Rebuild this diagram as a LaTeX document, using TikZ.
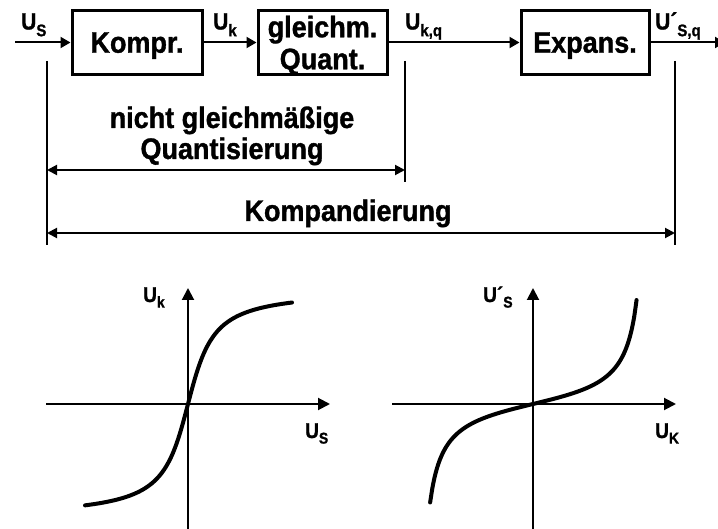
\documentclass[tikz,border=0pt]{standalone}
\usepackage{graphicx}
\usepackage{fontspec}
\setmainfont{Liberation Sans Bold}[FakeBold=1.2]
\usetikzlibrary{arrows.meta}
\newcommand{\BT}[1]{\scalebox{1}[1.1]{\fontsize{27}{27}\selectfont #1}}
\newcommand{\UTop}[2]{\scalebox{1}[1.12]{\fontsize{21}{21}\selectfont U#1\raisebox{-6pt}{\fontsize{15}{15}\selectfont #2}}}
\newcommand{\UBot}[2]{\scalebox{1}[1.12]{\fontsize{19}{19}\selectfont U#1\raisebox{-5pt}{\fontsize{14}{14}\selectfont #2}}}
\tikzset{
  sig/.style={line width=2pt, -{Triangle[length=10pt,width=11pt]}},
  blk/.style={draw, line width=3pt, inner sep=0pt, align=center, text depth=0pt,
    minimum height=64pt, font=\fontsize{27}{32}\selectfont},
  marker/.style={line width=2pt},
  dimline/.style={line width=2pt, {Triangle[length=10pt,width=10pt]}-{Triangle[length=10pt,width=10pt]}},
  axis/.style={line width=2pt, -{Triangle[length=12pt,width=12pt]}},
  curve/.style={line width=4pt, line cap=round},
  lbl/.style={inner sep=0pt, anchor=base west},
  txt/.style={inner sep=0pt, anchor=base}
}
\begin{document}
\begin{tikzpicture}[x=1pt,y=-1pt]
\useasboundingbox (0,0) rectangle (718,529);
% blocks
\node[blk, minimum width=130pt] (komp) at (137,42.5) {\BT{Kompr.}};
\node[blk, minimum width=129pt] (gq) at (322.5,42.5) {\BT{gleichm.}\\\BT{Quant.}};
\node[blk, minimum width=128pt] (exp) at (585,42.5) {\BT{Expans.}};
\coordinate (in) at (15,42.5);
\coordinate (out) at (725,42.5);
\draw[sig] (in) -- (komp.west);
\draw[sig] (komp.east) -- (gq.west);
\draw[sig] (gq.east) -- (exp.west);
\draw[sig] (exp.east) -- (out);
% signal labels
\node[lbl] (lUs) at (21,29.5) {\UTop{}{S}};
\node[lbl] (lUk) at (213,29.5) {\UTop{}{k}};
\node[lbl] (lUkq) at (405,29.5) {\UTop{}{k,q}};
\node[lbl] (lUsq) at (655,29.5) {\UTop{´}{S,q}};
% markers
\coordinate (v1a) at (47,61);  \coordinate (v1b) at (47,245);
\coordinate (v2a) at (405,61); \coordinate (v2b) at (405,182);
\coordinate (v3a) at (675,61); \coordinate (v3b) at (675,245);
\draw[marker] (v1a) -- (v1b);
\draw[marker] (v2a) -- (v2b);
\draw[marker] (v3a) -- (v3b);
\coordinate (d1l) at (47,170); \coordinate (d1r) at (405,170);
\coordinate (d2l) at (47,233); \coordinate (d2r) at (675,233);
\draw[dimline] (d1l) -- (d1r);
\draw[dimline] (d2l) -- (d2r);
\node[txt] (t1) at (232,128) {\BT{nicht gleichmäßige}};
\node[txt] (t2) at (232,159) {\BT{Quantisierung}};
\node[txt] (t3) at (348,221) {\BT{Kompandierung}};
% left graph
\coordinate (lxa) at (46,404); \coordinate (lxb) at (330,404);
\coordinate (lya) at (188,529); \coordinate (lyb) at (188,288);
\draw[axis] (lxa) -- (lxb);
\draw[axis] (lya) -- (lyb);
\draw[curve] plot[domain=-103:104, samples=90, smooth] ({188+\x}, {404-73*rad(atan(\x/19))});
\node[lbl] (gUk) at (143,302) {\UBot{}{k}};
\node[lbl] (gUs) at (305,438) {\UBot{}{S}};
% right graph
\coordinate (rxa) at (392,404); \coordinate (rxb) at (676,404);
\coordinate (rya) at (533,529); \coordinate (ryb) at (533,288);
\draw[axis] (rxa) -- (rxb);
\draw[axis] (rya) -- (ryb);
\draw[curve] plot[domain=-1.39:1.40, samples=90, smooth] ({533+74*\x}, {404-18*tan(\x r)});
\node[lbl] (gUs2) at (483,302) {\UBot{´}{S}};
\node[lbl] (gUK) at (655,438) {\UBot{}{K}};
\end{tikzpicture}
\end{document}
